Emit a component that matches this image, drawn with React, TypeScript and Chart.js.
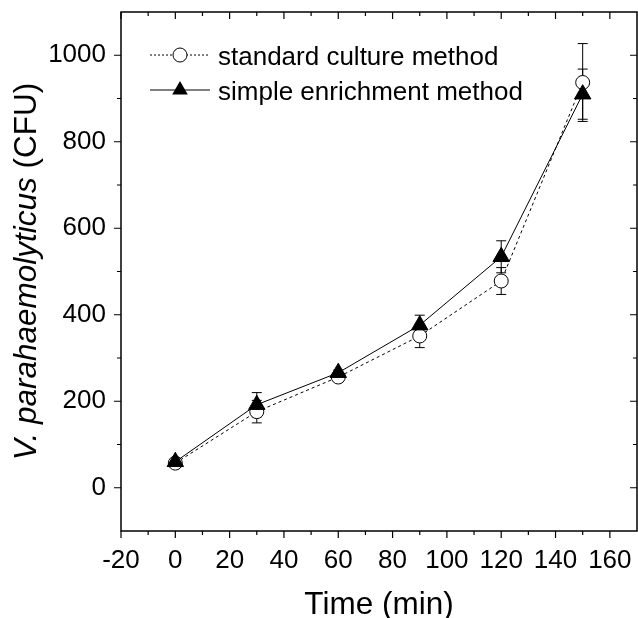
import React, { useEffect, useRef } from "react";
import { Chart, registerables } from "chart.js";

Chart.register(...registerables);

const times = [0, 30, 60, 90, 120, 150];
const standardValues = [57, 176, 256, 351, 478, 937];
const standardErrors = [6, 26, 6, 27, 31, 90];
const enrichmentValues = [60, 192, 266, 376, 534, 910];
const enrichmentErrors = [6, 28, 6, 23, 37, 58];

const seriesLabels = ["standard culture method", "simple enrichment method"];
const xTickValues = [-20, 0, 20, 40, 60, 80, 100, 120, 140, 160];
const xMinorTickValues = [-10, 10, 30, 50, 70, 90, 110, 130, 150];
const yTickValues = [0, 200, 400, 600, 800, 1000];
const yMinorTickValues = [100, 300, 500, 700, 900];
const xRange = [-20, 170];
const yRange = [-100, 1100];
const xTitle = "Time (min)";
const yTitleItalic = "V. parahaemolyticus";
const yTitleNormal = " (CFU)";

const FONT = 'Arial, "Liberation Sans", Helvetica, sans-serif';

function drawTriangle(ctx: CanvasRenderingContext2D, x: number, y: number, r: number) {
  let rad = 0;
  ctx.beginPath();
  ctx.moveTo(x + Math.sin(rad) * r, y - Math.cos(rad) * r);
  rad += (2 * Math.PI) / 3;
  ctx.lineTo(x + Math.sin(rad) * r, y - Math.cos(rad) * r);
  rad += (2 * Math.PI) / 3;
  ctx.lineTo(x + Math.sin(rad) * r, y - Math.cos(rad) * r);
  ctx.closePath();
  ctx.fillStyle = "#000";
  ctx.fill();
}

const decorPlugin = {
  id: "decor",
  beforeDatasetsDraw(chart: any) {
    const { ctx, scales } = chart;
    const x = scales.x;
    const y = scales.y;
    ctx.save();
    ctx.strokeStyle = "#000";
    ctx.lineWidth = 1;
    const cap = 5;
    const draw = (vals: number[], errs: number[]) => {
      vals.forEach((v, i) => {
        const px = x.getPixelForValue(times[i]);
        const t = y.getPixelForValue(v + errs[i]);
        const b = y.getPixelForValue(v - errs[i]);
        ctx.beginPath();
        ctx.moveTo(px, t);
        ctx.lineTo(px, b);
        ctx.moveTo(px - cap, t);
        ctx.lineTo(px + cap, t);
        ctx.moveTo(px - cap, b);
        ctx.lineTo(px + cap, b);
        ctx.stroke();
      });
    };
    draw(standardValues, standardErrors);
    draw(enrichmentValues, enrichmentErrors);
    ctx.restore();
  },
  afterDraw(chart: any) {
    const { ctx, chartArea, scales } = chart;
    const x = scales.x;
    const y = scales.y;
    const { left, right, top, bottom } = chartArea;
    ctx.save();
    ctx.strokeStyle = "#000";
    ctx.lineWidth = 1.5;
    ctx.strokeRect(left, top, right - left, bottom - top);

    ctx.lineWidth = 1.2;
    const major = 7;
    const minor = 4;
    ctx.beginPath();
    const xTick = (v: number, len: number) => {
      const px = x.getPixelForValue(v);
      ctx.moveTo(px, bottom);
      ctx.lineTo(px, bottom + len);
      ctx.moveTo(px, top);
      ctx.lineTo(px, top + len);
    };
    const yTick = (v: number, len: number) => {
      const py = y.getPixelForValue(v);
      ctx.moveTo(left, py);
      ctx.lineTo(left - len, py);
      ctx.moveTo(right, py);
      ctx.lineTo(right - len, py);
    };
    xTickValues.forEach((v) => xTick(v, major));
    xMinorTickValues.forEach((v) => xTick(v, minor));
    yTickValues.forEach((v) => yTick(v, major));
    yMinorTickValues.forEach((v) => yTick(v, minor));
    ctx.stroke();

    // legend
    const rows = [55, 90];
    const lx0 = 150;
    const lx1 = 210;
    const mx = 180;
    ctx.lineWidth = 1;
    ctx.setLineDash([2, 2]);
    ctx.beginPath();
    ctx.moveTo(lx0, rows[0]);
    ctx.lineTo(lx1, rows[0]);
    ctx.stroke();
    ctx.setLineDash([]);
    ctx.beginPath();
    ctx.arc(mx, rows[0], 7, 0, Math.PI * 2);
    ctx.fillStyle = "#fff";
    ctx.fill();
    ctx.stroke();
    ctx.beginPath();
    ctx.moveTo(lx0, rows[1]);
    ctx.lineTo(lx1, rows[1]);
    ctx.stroke();
    drawTriangle(ctx, mx, rows[1], 9);

    ctx.fillStyle = "#000";
    ctx.font = `26px ${FONT}`;
    ctx.textAlign = "left";
    ctx.textBaseline = "alphabetic";
    ctx.fillText(seriesLabels[0], 218, rows[0] + 9.5);
    ctx.fillText(seriesLabels[1], 218, rows[1] + 9.5);

    // x title
    ctx.font = `31.5px ${FONT}`;
    ctx.textAlign = "center";
    ctx.fillText(xTitle, (left + right) / 2, 614);

    // y title
    ctx.save();
    ctx.translate(36, (top + bottom) / 2);
    ctx.rotate(-Math.PI / 2);
    ctx.textAlign = "left";
    ctx.font = `italic 31.5px ${FONT}`;
    const w1 = ctx.measureText(yTitleItalic).width;
    ctx.font = `31.5px ${FONT}`;
    const w2 = ctx.measureText(yTitleNormal).width;
    const start = -(w1 + w2) / 2;
    ctx.font = `italic 31.5px ${FONT}`;
    ctx.fillText(yTitleItalic, start, 0);
    ctx.font = `31.5px ${FONT}`;
    ctx.fillText(yTitleNormal, start + w1, 0);
    ctx.restore();

    ctx.restore();
  },
};

export default function App() {
  const canvasRef = useRef<HTMLCanvasElement | null>(null);

  useEffect(() => {
    const canvas = canvasRef.current;
    if (!canvas) return;
    const chart = new Chart(canvas, {
      type: "line",
      data: {
        datasets: [
          {
            label: seriesLabels[0],
            data: times.map((t, i) => ({ x: t, y: standardValues[i] })),
            borderColor: "#000",
            borderWidth: 1,
            borderDash: [3, 3],
            pointStyle: "circle",
            pointRadius: 7,
            pointBackgroundColor: "#fff",
            pointBorderColor: "#000",
            pointBorderWidth: 1,
            tension: 0,
            order: 1,
          },
          {
            label: seriesLabels[1],
            data: times.map((t, i) => ({ x: t, y: enrichmentValues[i] })),
            borderColor: "#000",
            borderWidth: 1,
            pointStyle: "triangle",
            pointRadius: 9.5,
            pointBackgroundColor: "#000",
            pointBorderColor: "#000",
            pointBorderWidth: 1,
            tension: 0,
            order: 0,
          },
        ],
      },
      options: {
        responsive: false,
        animation: false,
        devicePixelRatio: 1,
        layout: { autoPadding: false, padding: { top: 12, right: 1, left: 0, bottom: 0 } },
        plugins: { legend: { display: false }, tooltip: { enabled: false } },
        scales: {
          x: {
            type: "linear",
            min: xRange[0],
            max: xRange[1],
            afterBuildTicks: (s: any) => {
              s.ticks = xTickValues.map((v) => ({ value: v }));
            },
            afterFit: (s: any) => {
              s.height = 87;
              s.paddingLeft = 0;
              s.paddingRight = 0;
              s.paddingTop = 0;
              s.paddingBottom = 0;
            },
            ticks: {
              color: "#000",
              font: { size: 26, family: FONT },
              padding: 14,
              maxRotation: 0,
              autoSkip: false,
              callback: (v: any) => String(v),
            },
            grid: { display: false, drawTicks: false },
            border: { display: false },
          },
          y: {
            type: "linear",
            min: yRange[0],
            max: yRange[1],
            afterBuildTicks: (s: any) => {
              s.ticks = yTickValues.map((v) => ({ value: v }));
            },
            afterFit: (s: any) => {
              s.width = 121;
              s.paddingLeft = 0;
              s.paddingRight = 0;
              s.paddingTop = 0;
              s.paddingBottom = 0;
            },
            ticks: {
              color: "#000",
              font: { size: 26, family: FONT },
              padding: 15,
              autoSkip: false,
              callback: (v: any) => String(v),
            },
            grid: { display: false, drawTicks: false },
            border: { display: false },
          },
        },
      },
      plugins: [decorPlugin],
    } as any);
    return () => chart.destroy();
  }, []);

  return (
    <div style={{ position: "absolute", left: 0, top: 0, width: 638, height: 618, background: "#fff" }}>
      <canvas ref={canvasRef} width={638} height={618} style={{ display: "block" }} />
    </div>
  );
}
